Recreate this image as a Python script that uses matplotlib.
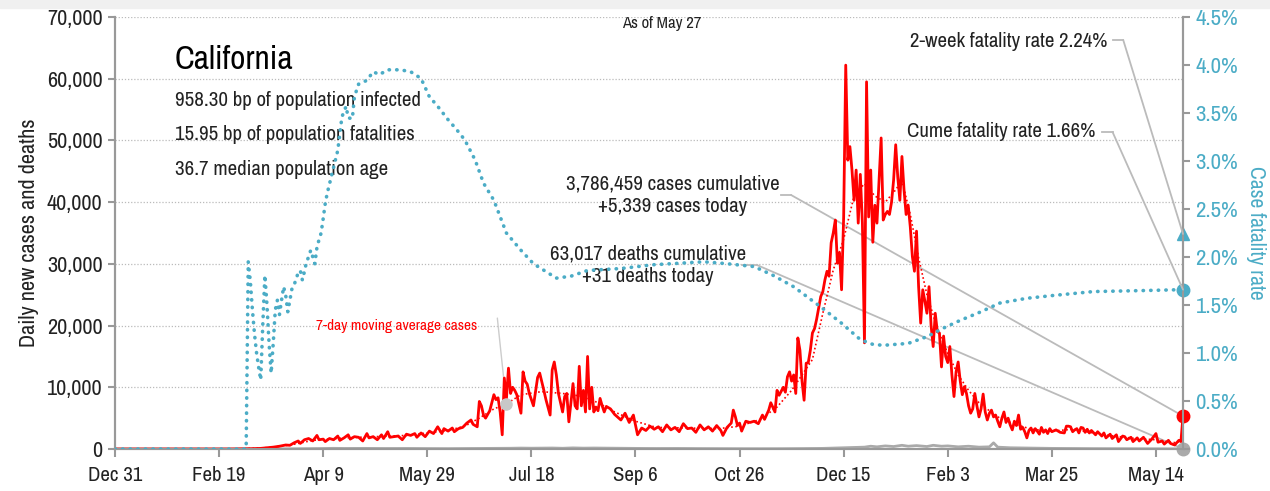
import numpy as np
import matplotlib.pyplot as plt
from matplotlib import font_manager
from matplotlib.patches import Rectangle
from matplotlib.ticker import FixedLocator, FuncFormatter, MultipleLocator

installed = {f.name for f in font_manager.fontManager.ttflist}
families = [f for f in ['Archivo Narrow', 'Roboto Condensed', 'Liberation Sans Narrow'] if f in installed]
plt.rcParams['font.family'] = families + ['DejaVu Sans']

START = np.datetime64('2019-12-31')
END_DAY = 513
tick_days = [0, 50, 100, 150, 200, 250, 300, 350, 400, 450, 500]

# daily new cases (day offset from Dec 31 2019)
case_days = [0, 55, 60, 66, 70, 73, 76, 79, 82, 84, 86, 88, 89, 91, 93, 95, 97, 98, 100, 101,
             103, 105, 107, 108, 110, 112, 113, 115, 117, 119, 121, 122, 124, 126, 128, 129, 131, 132, 134, 136,
             138, 140, 142, 144, 145, 147, 149, 151, 153, 155, 157, 158, 160, 162, 163, 165, 167, 169, 171, 172,
             174, 175, 176, 177, 178, 180, 182, 183, 184, 185, 186, 187, 188, 189, 190, 191, 192, 193, 195, 196,
             197, 198, 199, 201, 203, 204, 206, 207, 209, 210, 211, 212, 213, 215, 216, 217, 218, 220, 221, 222,
             223, 224, 225, 226, 227, 228, 229, 230, 231, 232, 233, 234, 235, 236, 238, 240, 242, 243, 245, 247,
             249, 251, 253, 255, 257, 259, 261, 263, 265, 267, 269, 271, 273, 275, 277, 279, 281, 283, 285, 287,
             289, 291, 292, 294, 296, 297, 298, 299, 300, 301, 303, 305, 307, 309, 311, 312, 314, 315, 317, 318,
             319, 321, 322, 323, 324, 325, 326, 327, 328, 329, 330, 331, 332, 333, 334, 335, 336, 337, 339, 340,
             341, 342, 343, 344, 345, 346, 347, 348, 349, 350, 351, 352, 353, 354, 355, 356, 357, 358, 359, 360,
             361, 362, 363, 364, 365, 366, 367, 368, 369, 370, 371, 372, 373, 374, 375, 376, 377, 378, 379, 380,
             381, 382, 383, 384, 385, 386, 387, 388, 389, 390, 391, 392, 393, 394, 395, 396, 397, 398, 399, 400,
             401, 402, 403, 404, 405, 406, 407, 408, 409, 410, 411, 412, 413, 414, 415, 416, 417, 418, 419, 420,
             421, 422, 423, 424, 425, 426, 427, 428, 429, 430, 431, 432, 433, 434, 435, 436, 437, 438, 439, 440,
             441, 442, 443, 444, 445, 446, 447, 448, 449, 450, 452, 454, 456, 457, 458, 459, 460, 461, 462, 463,
             464, 465, 466, 467, 468, 469, 471, 472, 474, 475, 476, 478, 479, 481, 482, 484, 485, 486, 488, 489,
             491, 492, 494, 495, 496, 498, 500, 501, 503, 504, 506, 507, 509, 511, 512, 513]
cases = [0, 0, 20, 50, 100, 200, 300, 450, 650, 600, 1000, 1300, 900, 1500, 1700, 1300, 2200, 1500, 1600, 1200,
         1700, 1500, 2100, 1400, 1800, 2300, 1600, 2000, 1900, 1300, 2500, 1800, 2000, 1500, 2300, 1700, 2800, 1900, 2000, 2100,
         1500, 2400, 2200, 2500, 1900, 2600, 2000, 2900, 2500, 3600, 2500, 3300, 2900, 3400, 2800, 3300, 3500, 4200, 4700, 4000,
         3600, 7700, 7000, 5500, 5000, 6200, 8800, 8000, 8300, 6000, 2300, 11500, 8000, 13100, 9000, 10000, 9500, 8800, 5800, 12500,
         11000, 10500, 9000, 7000, 11600, 12300, 9500, 8000, 5500, 12800, 14100, 12000, 9000, 6000, 8500, 9000, 4400, 10600, 7000, 6500,
         13400, 7000, 9500, 6000, 15000, 6500, 10000, 6000, 6800, 6200, 8200, 7000, 6000, 6900, 6500, 5600, 5000, 4700, 5800, 4300,
         5500, 2300, 3400, 3000, 3700, 3200, 3600, 2800, 3900, 3100, 3500, 2800, 4100, 3300, 3400, 2700, 3900, 3100, 3600, 2900,
         3800, 3000, 2200, 3500, 4200, 6300, 5200, 3800, 4200, 2900, 4500, 4300, 4500, 4100, 5500, 4800, 6300, 7500, 6000, 9500,
         8700, 10000, 9200, 11700, 12500, 11000, 12000, 9000, 18000, 16000, 11000, 7900, 13900, 14000, 16000, 18800, 19500, 21000, 24700, 25500,
         27400, 28800, 28000, 33400, 35000, 37100, 30100, 31800, 25800, 37600, 62200, 46800, 49000, 45200, 40300, 45200, 36600, 44500, 36600, 17200,
         59500, 37600, 45200, 33500, 39500, 36600, 43600, 50400, 37100, 38000, 38500, 38000, 40000, 43600, 49300, 44000, 40300, 47400, 42000, 38000,
         39500, 36000, 31200, 28800, 35300, 26300, 20400, 25800, 24000, 22000, 26300, 20000, 16600, 22000, 19000, 18800, 13300, 18300, 15000, 14000,
         16600, 12000, 8500, 12500, 14100, 11000, 8800, 10100, 9000, 7000, 5800, 6500, 9000, 7000, 5200, 6500, 8900, 6000, 4700, 5800,
         6300, 5200, 5500, 4500, 3600, 5000, 6000, 4300, 5000, 3900, 3100, 4500, 3800, 5500, 3200, 3500, 2800, 1800, 3000, 3400,
         2600, 3300, 2900, 2400, 3500, 2700, 3100, 2500, 3300, 2800, 3100, 2700, 2600, 3700, 3700, 3600, 2800, 3100, 3300, 2600,
         3500, 3400, 2700, 3200, 2600, 3000, 2300, 2800, 2100, 2600, 1800, 2400, 1700, 2300, 1200, 2100, 2000, 1500, 1900, 1200,
         1800, 1300, 1900, 1400, 900, 1600, 2500, 1100, 1300, 800, 1400, 900, 650, 1400, 1200, 5339]

# 7-day moving average of cases
avg_days = [0, 60, 75, 85, 95, 110, 125, 140, 150, 160, 168, 175, 182, 188, 195, 205, 215, 225, 232, 240,
            250, 260, 275, 290, 300, 310, 318, 325, 330, 335, 340, 345, 350, 355, 360, 365, 370, 375, 378, 382,
            386, 390, 395, 400, 405, 410, 415, 420, 425, 430, 440, 450, 460, 470, 480, 490, 500, 505, 510, 513]
avg_cases = [0, 0, 250, 700, 1400, 1800, 2000, 2200, 2600, 3000, 3700, 5000, 6500, 7300, 8800, 9300, 9000, 8500, 7500, 6000,
             4500, 3500, 3400, 3300, 3700, 4800, 6800, 9500, 12000, 14500, 22000, 29000, 34000, 41000, 43000, 41000, 40000, 42000, 43500, 38000,
             31000, 25000, 19500, 15500, 12000, 9500, 7500, 6200, 5000, 4300, 3200, 2900, 3200, 2600, 2100, 1700, 1500, 1200, 1000, 1700]

# daily new deaths
death_days = [0, 70, 80, 90, 100, 105, 110, 120, 130, 140, 150, 160, 170, 180, 190, 195, 200, 210, 215, 220,
              225, 230, 240, 250, 260, 270, 280, 290, 300, 310, 320, 330, 340, 345, 350, 355, 360, 363, 366, 370,
              374, 378, 381, 385, 390, 393, 397, 400, 405, 410, 415, 420, 422, 424, 430, 440, 450, 460, 470, 480,
              490, 500, 510, 513]
deaths = [0, 0, 20, 50, 80, 110, 90, 100, 80, 90, 70, 60, 80, 100, 120, 150, 130, 160, 120, 180,
          140, 160, 130, 100, 80, 90, 70, 60, 50, 45, 50, 70, 100, 150, 200, 250, 300, 450, 350, 500,
          400, 600, 450, 550, 400, 600, 450, 500, 350, 450, 300, 350, 1000, 300, 200, 150, 100, 80, 60, 50,
          40, 30, 25, 31]

# case fatality rate, percent
cfr_days = [0, 63, 64, 65, 66, 67, 68, 69, 70, 71, 72, 73, 74, 75, 76, 77, 78, 79, 80, 81,
            82, 83, 84, 85, 86, 87, 88, 89, 90, 91, 92, 93, 94, 95, 96, 97, 98, 99, 100, 101,
            102, 107, 109, 111, 112, 114, 115, 117, 121, 124, 127, 131, 137, 142, 147, 151, 155, 160, 164, 168,
            173, 177, 182, 188, 195, 201, 212, 219, 227, 243, 259, 283, 294, 307, 316, 326, 339, 349, 358, 364,
            369, 381, 390, 398, 406, 416, 425, 438, 451, 470, 493, 513]
cfr = [0.0, 0.0, 1.95, 1.75, 1.45, 1.2, 1.0, 0.85, 0.72, 1.3, 1.81, 1.5, 1.1, 0.79, 1.1, 1.45, 1.55, 1.4, 1.55, 1.69,
       1.6, 1.43, 1.55, 1.67, 1.7, 1.78, 1.83, 1.86, 1.76, 1.85, 1.95, 2.0, 2.07, 2.0, 1.93, 2.1, 2.18, 2.25, 2.4, 2.56,
       2.67, 3.11, 3.46, 3.57, 3.45, 3.44, 3.67, 3.8, 3.84, 3.93, 3.9, 3.95, 3.95, 3.93, 3.86, 3.67, 3.57, 3.43, 3.33, 3.22,
       3.01, 2.77, 2.59, 2.25, 2.07, 1.93, 1.78, 1.8, 1.86, 1.88, 1.92, 1.95, 1.93, 1.9, 1.81, 1.69, 1.48, 1.31, 1.14, 1.09,
       1.08, 1.1, 1.17, 1.26, 1.34, 1.43, 1.52, 1.57, 1.6, 1.64, 1.65, 1.66]

two_week_rate = 2.24
cume_rate = 1.66
cases_total = 3786459
deaths_total = 63017

RED = '#ff0000'
TEAL = '#4bacc6'
LEAD = '#bbbbbb'
AXC = '#999999'
TXT = '#222222'
BIG = 15


def to_dates(days):
    return START + np.array(days).astype('timedelta64[D]')


fig = plt.figure(figsize=(12.7, 4.91), dpi=100)
fig.patches.append(Rectangle((0, 1 - 8 / 491), 1, 8 / 491, transform=fig.transFigure,
                             color='#f0f0f0', zorder=0))
ax = fig.add_axes([115 / 1270, 1 - 449 / 491, 1068 / 1270, 432 / 491])
ax2 = ax.twinx()

ax.plot(to_dates(death_days), deaths, color='#aaaaaa', lw=2, zorder=3)
ax.plot(to_dates(avg_days), avg_cases, color=RED, lw=1.2, ls=(0, (1, 1.5)), zorder=4)
ax.plot(to_dates(case_days), cases, color=RED, lw=2, zorder=5)
ax.plot(to_dates([case_days[-1]]), [cases[-1]], 'o', color=RED, ms=9, zorder=6, clip_on=False)
ax.plot(to_dates([death_days[-1]]), [deaths[-1]], 'o', color='#aaaaaa', ms=9, zorder=6, clip_on=False)

ax2.plot(to_dates(cfr_days), cfr, color=TEAL, lw=2.6, ls=(0, (0.1, 2.0)),
         dash_capstyle='round', zorder=3)
ax2.plot(to_dates([cfr_days[-1]]), [cume_rate], 'o', color=TEAL, ms=9, clip_on=False)
ax2.plot(to_dates([cfr_days[-1]]), [two_week_rate], '^', color=TEAL, ms=9, clip_on=False)

ax.set_xlim(to_dates([0])[0], to_dates([END_DAY])[0])
ax.set_ylim(0, 70000)
ax2.set_ylim(0, 4.5)

epoch = np.datetime64('1970-01-01')
ax.xaxis.set_major_locator(FixedLocator((to_dates(tick_days) - epoch).astype(int).astype(float)))
ax.xaxis.set_major_formatter(FuncFormatter(
    lambda v, p: (epoch + np.timedelta64(int(round(v)), 'D')).astype(object).strftime('%b %-d')))
ax.yaxis.set_major_locator(MultipleLocator(10000))
ax.yaxis.set_major_formatter(FuncFormatter(lambda v, p: f'{v:,.0f}'))
ax2.yaxis.set_major_locator(MultipleLocator(0.5))
ax2.yaxis.set_major_formatter(FuncFormatter(lambda v, p: f'{v:.1f}%'))

ax.grid(axis='y', color='#bbbbbb', ls=(0, (1, 1.5)), lw=0.9)
ax.set_axisbelow(True)
for a in (ax, ax2):
    a.spines['top'].set_visible(False)
    for s in ('left', 'right', 'bottom'):
        a.spines[s].set_color(AXC)
        a.spines[s].set_linewidth(1.5)
ax.tick_params(axis='x', colors=AXC, labelcolor=TXT, labelsize=15, length=6, width=1.5, pad=6)
ax.tick_params(axis='y', colors=AXC, labelcolor=TXT, labelsize=16, length=5, width=1.5, pad=4)
ax2.tick_params(axis='y', colors=AXC, labelcolor=TEAL, labelsize=16.5, length=5, width=1.5, pad=4)
ax.set_ylabel('Daily new cases and deaths', fontsize=16, color=TXT, labelpad=6)
ax2.set_ylabel('Case fatality rate', fontsize=15.5, color=TEAL, rotation=270, labelpad=20)

# title block
ax.text(0.056, 0.900, 'California', transform=ax.transAxes, fontsize=24, color='black', va='center')
ax.text(0.056, 0.806, '958.30 bp of population infected', transform=ax.transAxes,
        fontsize=BIG, color=TXT, va='center')
ax.text(0.056, 0.727, '15.95 bp of population fatalities', transform=ax.transAxes,
        fontsize=BIG, color=TXT, va='center')
ax.text(0.056, 0.646, '36.7 median population age', transform=ax.transAxes,
        fontsize=BIG, color=TXT, va='center')
ax.text(0.512, 0.984, 'As of May 27', transform=ax.transAxes, fontsize=12, color=TXT,
        ha='center', va='center')


def leader(ax_, x0, x1, y, target_xy):
    ax_.plot([x0, x1], [y, y], transform=ax_.transAxes, color=LEAD, lw=1.3, clip_on=False)
    ax_.annotate('', xy=target_xy, xycoords='data', xytext=(x1, y), textcoords='axes fraction',
                 arrowprops=dict(arrowstyle='-', color=LEAD, lw=1.3, shrinkA=0, shrinkB=0))


last_date = to_dates([END_DAY])[0]

ax.text(0.522, 0.587, f'{cases_total:,} cases cumulative\n+{cases[-1]:,} cases today',
        transform=ax.transAxes, fontsize=BIG, color=TXT, ha='center', va='center',
        linespacing=1.2)
leader(ax, 0.6236, 0.633, 0.588, (last_date, cases[-1]))

ax.text(0.499, 0.425, f'{deaths_total:,} deaths cumulative\n+{deaths[-1]} deaths today',
        transform=ax.transAxes, fontsize=BIG, color=TXT, ha='center', va='center',
        linespacing=1.2)
leader(ax, 0.587, 0.601, 0.426, (last_date, deaths[-1]))

ax2.text(0.929, 0.944, f'2-week fatality rate {two_week_rate:.2f}%', transform=ax2.transAxes,
         fontsize=BIG, color=TXT, ha='right', va='center')
leader(ax2, 0.934, 0.944, 0.947, (last_date, two_week_rate))

ax2.text(0.918, 0.734, f'Cume fatality rate {cume_rate:.2f}%', transform=ax2.transAxes,
         fontsize=BIG, color=TXT, ha='right', va='center')
leader(ax2, 0.924, 0.934, 0.734, (last_date, cume_rate))

# moving-average label with pointer to the curve
ma_idx = avg_days.index(188)
ax.plot(to_dates([avg_days[ma_idx]]), [avg_cases[ma_idx]], 'o', color='#c8c8c8', ms=8, zorder=7)
ax.text(0.339, 0.285, '7-day moving average cases', transform=ax.transAxes, fontsize=11,
        color=RED, ha='right', va='center')
ax.annotate('', xy=(to_dates([avg_days[ma_idx]])[0], avg_cases[ma_idx]), xycoords='data',
            xytext=(0.358, 0.303), textcoords='axes fraction',
            arrowprops=dict(arrowstyle='-', color='#cccccc', lw=1, shrinkA=0, shrinkB=4))

fig.savefig('out.png', dpi=100)
